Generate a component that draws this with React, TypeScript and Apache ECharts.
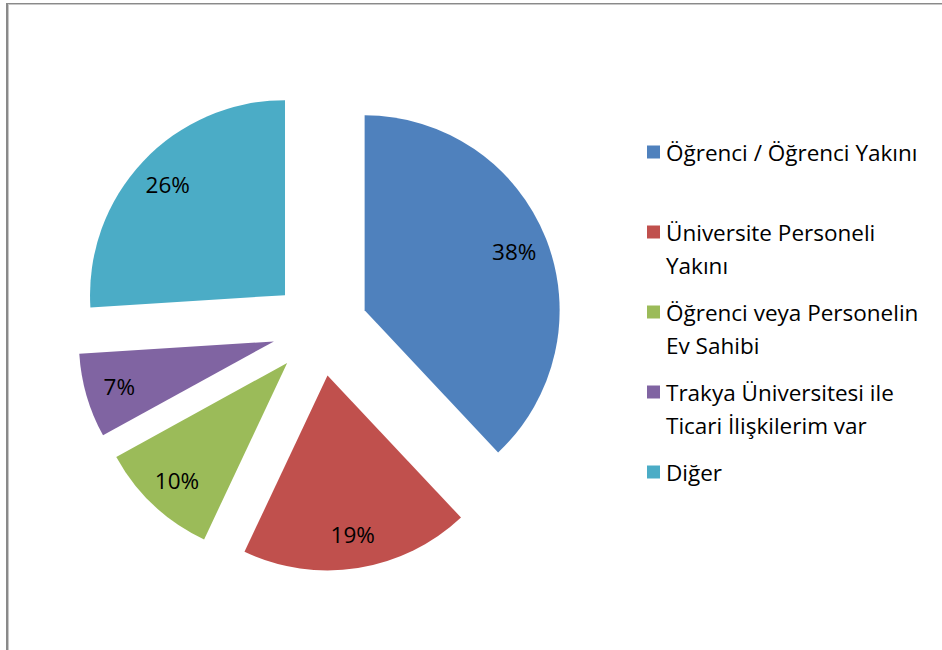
import React, { useEffect, useRef } from "react";
import * as echarts from "echarts";

const categories = [
  "Öğrenci / Öğrenci Yakını",
  "Üniversite Personeli Yakını",
  "Öğrenci veya Personelin Ev Sahibi",
  "Trakya Üniversitesi ile Ticari İlişkilerim var",
  "Diğer",
];
const legendTexts = [
  "Öğrenci / Öğrenci Yakını",
  "Üniversite Personeli\nYakını",
  "Öğrenci veya Personelin\nEv Sahibi",
  "Trakya Üniversitesi ile\nTicari İlişkilerim var",
  "Diğer",
];
const values = [38, 19, 10, 7, 26];
const colors = ["#4F81BD", "#C0504D", "#9BBB59", "#8064A2", "#4BACC6"];

const FONT = "'Open Sans', 'Noto Sans', sans-serif";

export default function App() {
  const ref = useRef<HTMLDivElement>(null);
  useEffect(() => {
    if (!ref.current) return;
    const chart = echarts.init(ref.current, undefined, { renderer: "svg" });
    const R = 195;
    const center = [320, 328];
    const data = categories.map((name, i) => ({
      name,
      value: values[i],
      selected: true,
      itemStyle: { color: colors[i] },
    }));
    const labelData = categories.map((name, i) => ({
      name,
      value: values[i],
      selected: true,
    }));
    const legendGraphics: any[] = [];
    legendTexts.forEach((t, i) => {
      const cy = 152 + i * 80;
      legendGraphics.push({
        type: "rect",
        shape: { x: 647, y: cy - 6.5, width: 13, height: 13 },
        style: { fill: colors[i] },
        silent: true,
      });
      legendGraphics.push({
        type: "text",
        x: 666,
        y: cy - 16.5,
        style: {
          text: t,
          fill: "#000",
          font: `22.5px ${FONT}`,
          lineHeight: 33,
          verticalAlign: "top",
          align: "left",
        },
        silent: true,
      });
    });
    chart.setOption({
      animation: false,
      backgroundColor: "#fff",
      graphic: [
        {
          type: "rect",
          shape: { x: 6, y: 3, width: 2, height: 660 },
          style: { fill: "#8a8a8a" },
          silent: true,
        },
        {
          type: "rect",
          shape: { x: 8, y: 3, width: 1, height: 660 },
          style: { fill: "#c8c8c8" },
          silent: true,
        },
        {
          type: "rect",
          shape: { x: 6, y: 3, width: 950, height: 1 },
          style: { fill: "#8a8a8a" },
          silent: true,
        },
        {
          type: "rect",
          shape: { x: 8, y: 4, width: 950, height: 1 },
          style: { fill: "#c8c8c8" },
          silent: true,
        },
        ...legendGraphics,
      ],
      series: [
        {
          type: "pie",
          center,
          radius: [0, R],
          startAngle: 90,
          clockwise: true,
          selectedMode: "multiple",
          selectedOffset: 48,
          avoidLabelOverlap: false,
          label: { show: false },
          labelLine: { show: false },
          emphasis: { disabled: true },
          itemStyle: { borderWidth: 0 },
          data,
          silent: true,
        },
        {
          type: "pie",
          center,
          radius: [R * 0.62, R],
          startAngle: 90,
          clockwise: true,
          selectedMode: "multiple",
          selectedOffset: 48,
          avoidLabelOverlap: false,
          itemStyle: { color: "rgba(0,0,0,0)", borderWidth: 0 },
          label: {
            show: true,
            position: "inside",
            formatter: "{d}%",
            color: "#000",
            fontSize: 22.5,
            fontFamily: FONT,
          },
          labelLine: { show: false },
          emphasis: { disabled: true },
          percentPrecision: 0,
          data: labelData,
          silent: true,
          z: 3,
        },
      ],
    });
    return () => chart.dispose();
  }, []);
  return (
    <div
      ref={ref}
      style={{ position: "fixed", left: 0, top: 0, width: 942, height: 650 }}
    />
  );
}
